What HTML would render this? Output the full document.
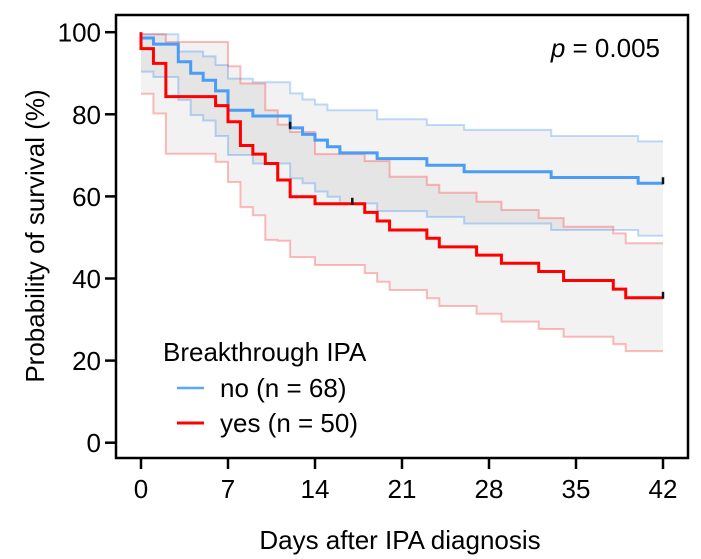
<!DOCTYPE html>
<html><head><meta charset="utf-8"><style>
html,body{margin:0;padding:0;background:#fff;}
svg{display:block;font-family:"Liberation Sans",Arial,sans-serif;}
</style></head><body>
<svg id="chart" width="701" height="559" viewBox="0 0 701 559">
<g id="bands"></g>
<g id="lines"></g>
<rect x="116" y="15" width="572" height="443" fill="none" stroke="#000" stroke-width="2.5"/>
<g id="xaxis"></g>
<g id="yaxis"></g>
<text x="660" y="57" font-size="26" text-anchor="end"><tspan font-style="italic">p</tspan> = 0.005</text>
<text x="400" y="549" font-size="26" text-anchor="middle">Days after IPA diagnosis</text>
<text transform="translate(44,236) rotate(-90)" font-size="26" text-anchor="middle">Probability of survival (%)</text>
<g>
<text x="163" y="361" font-size="26">Breakthrough IPA</text>
<g>
<line x1="177" y1="388" x2="204" y2="388" stroke="#5aa6f8" stroke-width="2.5"/>
<text x="220" y="397" font-size="26">no (n = 68)</text></g>
<g>
<line x1="177" y1="423" x2="204" y2="423" stroke="#ff0000" stroke-width="3"/>
<text x="220" y="432" font-size="26">yes (n = 50)</text></g>
</g>
</svg>
<script>
const xTicks=[0,7,14,21,28,35,42];
const yTicks=[0,20,40,60,80,100];
const noTimes=[0,0,1,3,4,5,6,7,9,12,13,14,15,16,19,23,26,33,40];
const noSurv=[100,98.6,97.1,92.8,90.0,88.3,85.7,81.0,79.6,76.7,75.1,73.7,72.1,70.6,69.2,67.6,66.0,64.6,63.2];
const noUpperTimes=[0,3,5,6,7,9,12,13,14,15,19,23,26,33,40];
const noUpper=[99.5,95.3,94.1,92.0,88.7,87.8,85.1,83.6,82.4,81.0,78.8,77.4,76.2,74.7,73.4];
const noLowerTimes=[0,1,3,4,5,6,7,9,12,13,14,15,16,19,23,26,33,40];
const noLower=[90.4,89.1,83.5,79.8,78.5,74.7,70.1,68.0,64.4,63.2,61.2,59.9,58.3,56.4,55.0,53.4,51.8,50.4];
const yesTimes=[0,0,1,2,6,7,8,9,10,11,12,14,18,19,20,23,24,27,29,32,34,38,39];
const yesSurv=[100,96,92.4,84.3,82.1,78.2,72.4,70.3,68.0,64.0,59.9,58.2,56.1,54.0,51.8,49.8,47.7,45.7,43.7,41.7,39.5,37.4,35.3];
const yesUpperTimes=[0,2,7,8,10,11,12,14,18,20,23,24,27,29,32,34,38,39];
const yesUpper=[99.5,97.6,91.7,87.5,81,77.5,75.7,70.3,68.6,64.8,62.8,60.9,58.7,56.7,54.7,52.6,51.0,48.6];
const yesLowerTimes=[0,1,2,6,7,8,9,10,11,12,14,18,19,20,23,24,27,29,32,34,38,39];
const yesLower=[85.0,80.2,70.4,68.4,63.5,57.4,55.4,49.4,49.2,45.2,43.3,41.3,39.2,37.2,35.2,33.3,31.4,29.5,27.7,25.8,24.0,22.3];
const noCensor=[12,42];
const yesCensor=[17,42];
const xMax=42;
const NS='http://www.w3.org/2000/svg';
function xs(d){return 141+d*(663-141)/42;}
function ys(v){return 442.7-v*4.105;}
function stepPts(t,v){let p=[];for(let i=0;i<t.length;i++){if(i>0)p.push([xs(t[i]),ys(v[i-1])]);p.push([xs(t[i]),ys(v[i])]);}p.push([xs(xMax),ys(v[v.length-1])]);return p;}
function valAt(t,v,d){let r=v[0];for(let i=0;i<t.length;i++)if(t[i]<=d)r=v[i];return r;}
function mk(tag,attrs,parent){const e=document.createElementNS(NS,tag);for(const k in attrs)e.setAttribute(k,attrs[k]);parent.appendChild(e);return e;}
const bands=document.getElementById('bands'),lines=document.getElementById('lines');
function band(ut,uv,lt,lv,color,name){
  const up=stepPts(ut,uv), lo=stepPts(lt,lv).reverse();
  const poly=mk('polygon',{points:up.concat(lo).map(p=>p.join(',')).join(' '),fill:'rgba(0,0,0,0.05)',stroke:'none'},bands);
  
  
  const a=mk('polyline',{points:up.map(p=>p.join(',')).join(' '),fill:'none',stroke:color,'stroke-opacity':0.35,'stroke-width':2},bands);
  
  
  const b=mk('polyline',{points:stepPts(lt,lv).map(p=>p.join(',')).join(' '),fill:'none',stroke:color,'stroke-opacity':0.35,'stroke-width':2},bands);
  
  
}
band(noUpperTimes,noUpper,noLowerTimes,noLower,'#4a9cf7','no');
band(yesUpperTimes,yesUpper,yesLowerTimes,yesLower,'#ff4040','yes');
function curve(t,v,color,w,name,cens){
  const l=mk('polyline',{points:stepPts(t,v).map(p=>p.join(',')).join(' '),fill:'none',stroke:color,'stroke-width':w},lines);
  
  
  cens.forEach(d=>{const x=xs(d),y=ys(valAt(t,v,d));
    const c=mk('line',{x1:x,x2:x,y1:y-6,y2:y+1,stroke:'#111','stroke-width':2.5},lines);
    
    });
}
curve(noTimes,noSurv,'#4a9cf7',3,'no',noCensor);
curve(yesTimes,yesSurv,'#ff0000',3,'yes',yesCensor);
const xa=document.getElementById('xaxis'),ya=document.getElementById('yaxis');
xTicks.forEach(d=>{const x=xs(d);
  const t=mk('line',{x1:x,x2:x,y1:458,y2:469,stroke:'#000','stroke-width':2.5},xa);
  
  
  const l=mk('text',{x:x,y:498,'font-size':26,'text-anchor':'middle'},xa);l.textContent=d;
  
  });
yTicks.forEach(v=>{const y=ys(v);
  const t=mk('line',{x1:105,x2:116,y1:y,y2:y,stroke:'#000','stroke-width':2.5},ya);
  
  
  const l=mk('text',{x:101,y:y+9.5,'font-size':26,'text-anchor':'end'},ya);l.textContent=v;
  
  });
</script>
</body></html>
